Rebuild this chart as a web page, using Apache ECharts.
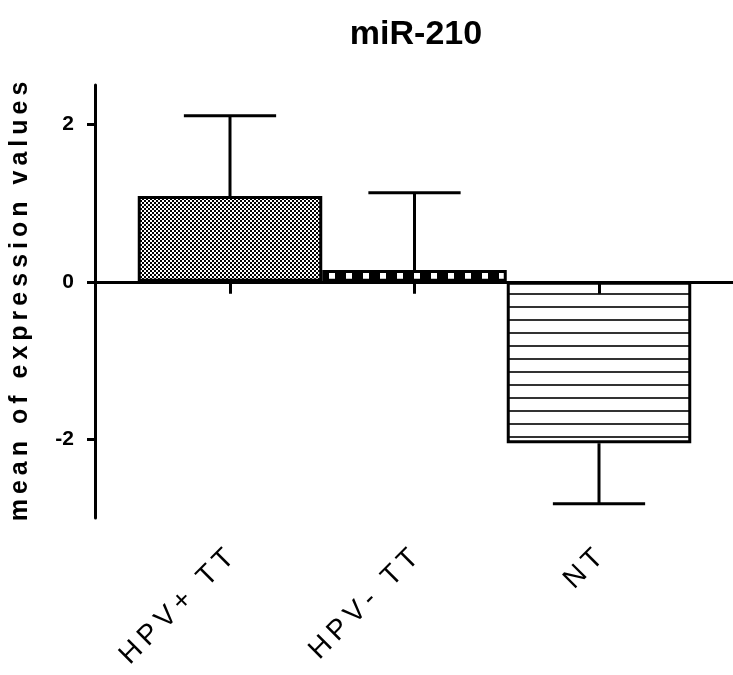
<!DOCTYPE html>
<html>
<head>
<meta charset="utf-8">
<script src="https://cdn.jsdelivr.net/npm/echarts@6/dist/echarts.min.js"></script>
<style>
  html, body { margin: 0; padding: 0; background: #fff; }
  #chart { width: 733px; height: 675px; }
</style>
</head>
<body>
<div id="chart"></div>
<script>
// data
const titleText = 'miR-210'
const yName = 'mean of expression values'
const categories = ['HPV+ TT', 'HPV- TT', 'NT']
const means = [1.09, 0.15, -2.05]
const errors = [1.02, 0.98, 0.77]
const yTicks = [-2, 0, 2]
const yMin = -3
const yMax = 2.5

// letters drawn with a small gap between them, like the source figure
const spaced = s => Array.from(s).join('\u2009')

// fill patterns for the bars
function makePattern (w, h, draw) {
  const c = document.createElement('canvas')
  c.width = w
  c.height = h
  const ctx = c.getContext('2d')
  draw(ctx)
  return { image: c, repeat: 'repeat' }
}
const checker = makePattern(4, 4, ctx => {
  ctx.fillStyle = '#fff'
  ctx.fillRect(0, 0, 4, 4)
  ctx.fillStyle = '#000'
  ctx.fillRect(0, 0, 2, 2)
  ctx.fillRect(2, 2, 2, 2)
})
const blocks = makePattern(17, 1, ctx => {
  ctx.fillStyle = '#000'
  ctx.fillRect(0, 0, 17, 1)
  ctx.fillStyle = '#fff'
  ctx.fillRect(6, 0, 6, 1)
})
const hlines = makePattern(4, 13, ctx => {
  ctx.fillStyle = '#fff'
  ctx.fillRect(0, 0, 4, 13)
  ctx.fillStyle = '#333'
  ctx.fillRect(0, 7, 4, 2)
})
const patterns = [checker, blocks, hlines]

const font = 'Liberation Sans, Arial, sans-serif'

const dom = document.getElementById('chart')
const chart = echarts.init(dom, null, { renderer: 'canvas' })

const option = {
  backgroundColor: '#fff',
  animation: false,
  title: {
    text: titleText,
    left: 411,
    top: 13,
    textAlign: 'center',
    textStyle: { fontFamily: font, fontSize: 34, fontWeight: 'bold', color: '#000' }
  },
  grid: [
    { left: 92, right: 0, top: 85, bottom: 157 },
    { left: 137.75, width: 553.5, top: 85, bottom: 157 }
  ],
  xAxis: [
    {
      // full width zero line
      gridIndex: 0,
      type: 'value',
      min: 0,
      max: 1,
      z: 10,
      axisLine: { show: true, onZero: true, lineStyle: { color: '#000', width: 3 } },
      axisTick: { show: false },
      axisLabel: { show: false },
      splitLine: { show: false }
    },
    {
      // category ticks sitting on the zero line
      gridIndex: 1,
      type: 'category',
      position: 'top',
      data: categories,
      z: 10,
      axisLine: { show: false, onZero: true },
      axisTick: { show: true, inside: true, alignWithLabel: true, length: 12, lineStyle: { color: '#000', width: 3 } },
      axisLabel: { show: false },
      splitLine: { show: false }
    },
    {
      // category labels along the bottom
      gridIndex: 1,
      type: 'category',
      position: 'bottom',
      data: categories,
      axisLine: { show: false, onZero: false },
      axisTick: { show: false },
      axisLabel: {
        rotate: 45,
        margin: 36,
        fontFamily: font,
        fontSize: 28,
        color: '#000',
        formatter: v => spaced(v)
      },
      splitLine: { show: false }
    }
  ],
  yAxis: [
    {
      gridIndex: 0,
      type: 'value',
      min: yMin,
      max: yMax,
      name: spaced(yName),
      nameLocation: 'middle',
      nameRotate: 90,
      nameGap: 62,
      nameTextStyle: { fontFamily: font, fontSize: 25, fontWeight: 'bold', color: '#000' },
      axisLine: { show: true, lineStyle: { color: '#000', width: 3 } },
      axisTick: { show: true, length: 8, customValues: yTicks, lineStyle: { color: '#000', width: 3 } },
      axisLabel: { customValues: yTicks, margin: 21, fontFamily: font, fontSize: 21, fontWeight: 'bold', color: '#000' },
      splitLine: { show: false }
    },
    {
      gridIndex: 1,
      type: 'value',
      min: yMin,
      max: yMax,
      show: false
    }
  ],
  series: [
    {
      type: 'bar',
      xAxisIndex: 1,
      yAxisIndex: 1,
      barWidth: '100%',
      data: means.map((v, i) => ({
        value: v,
        itemStyle: { color: patterns[i], borderColor: '#000', borderWidth: 3 }
      }))
    },
    {
      type: 'custom',
      xAxisIndex: 1,
      yAxisIndex: 1,
      z: 5,
      data: means.map((v, i) => [i, v, errors[i]]),
      renderItem (params, api) {
        const i = api.value(0)
        const m = api.value(1)
        const e = api.value(2)
        const end = m >= 0 ? m + e : m - e
        const p0 = api.coord([i, m])
        const p1 = api.coord([i, end])
        const half = api.size([1, 0])[0] * 0.25
        const style = { stroke: '#000', lineWidth: 3 }
        return {
          type: 'group',
          children: [
            { type: 'line', shape: { x1: p0[0], y1: p0[1], x2: p1[0], y2: p1[1] }, style },
            { type: 'line', shape: { x1: p1[0] - half, y1: p1[1], x2: p1[0] + half, y2: p1[1] }, style }
          ]
        }
      }
    }
  ]
}

chart.setOption(option)
</script>
</body>
</html>
